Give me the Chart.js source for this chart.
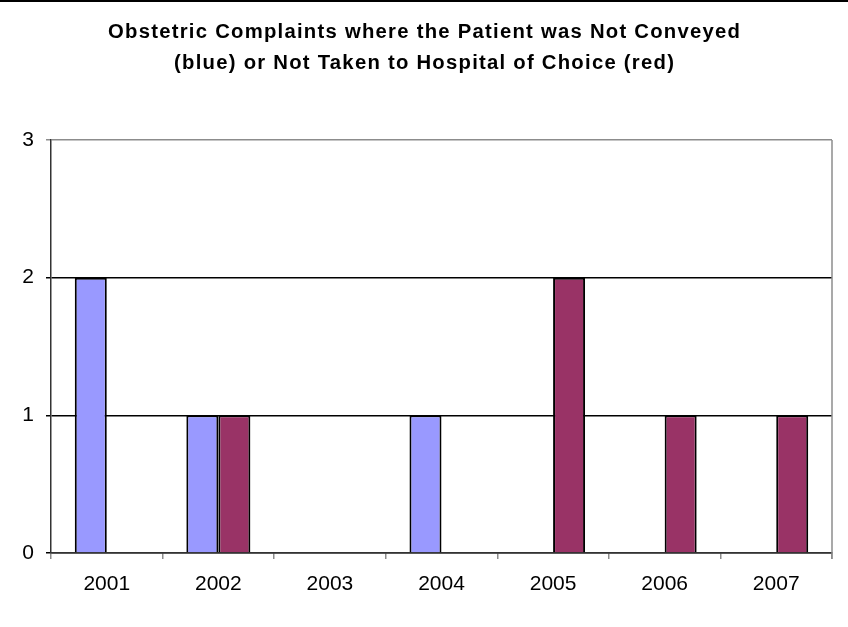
<!DOCTYPE html>
<html>
<head>
<meta charset="utf-8">
<script src="https://cdn.jsdelivr.net/npm/chart.js@4/dist/chart.umd.min.js"></script>
<style>
  html, body { margin: 0; padding: 0; background: #fff; }
  #wrap { width: 848px; height: 627px; position: relative; }
</style>
</head>
<body>
<div id="wrap"><canvas id="c" width="848" height="627"></canvas></div>
<script>
const years = ['2001', '2002', '2003', '2004', '2005', '2006', '2007'];
const notConveyed = [2, 1, 0, 1, 0, 0, 0];
const notHospitalOfChoice = [0, 1, 0, 0, 2, 1, 1];
const titleLines = [
  'Obstetric Complaints where the Patient was Not Conveyed',
  '(blue) or Not Taken to Hospital of Choice (red)'
];

const FONT = '"Liberation Sans", Arial, sans-serif';

// Page rule across the top, the wide bold heading,
// and the grey right-hand frame of the plot area
const framePlugin = {
  id: 'frame',
  beforeDraw(chart) {
    const ctx = chart.ctx;
    ctx.save();
    ctx.fillStyle = '#fff';
    ctx.fillRect(0, 0, chart.width, chart.height);
    ctx.fillStyle = '#000';
    ctx.fillRect(0, 0, chart.width, 2);

    const spacing = 1.2;
    const stretch = 1.04;
    ctx.font = 'bold 19.5px ' + FONT;
    ctx.letterSpacing = spacing + 'px';
    ctx.textAlign = 'center';
    ctx.textBaseline = 'middle';
    const cx = chart.width / 2 + spacing / 2;
    ctx.translate(cx, 0);
    ctx.scale(stretch, 1);
    ctx.fillText(titleLines[0], 0, 33);
    ctx.fillText(titleLines[1], 0, 64);
    ctx.restore();
  },
  afterDatasetsDraw(chart) {
    const { ctx, chartArea } = chart;
    ctx.save();
    ctx.strokeStyle = '#8c8c8c';
    ctx.lineWidth = 1.5;
    ctx.beginPath();
    ctx.moveTo(chartArea.right, chartArea.top);
    ctx.lineTo(chartArea.right, chartArea.bottom + 6);
    ctx.stroke();
    ctx.restore();
  }
};

new Chart(document.getElementById('c'), {
  type: 'bar',
  data: {
    labels: years,
    datasets: [
      {
        label: 'Not Conveyed',
        data: notConveyed,
        backgroundColor: '#9999ff',
        borderColor: '#000',
        borderWidth: 2
      },
      {
        label: 'Not Taken to Hospital of Choice',
        data: notHospitalOfChoice,
        backgroundColor: '#993366',
        borderColor: '#000',
        borderWidth: 2
      }
    ]
  },
  options: {
    responsive: false,
    animation: false,
    layout: { padding: { left: 0, right: 16, top: 140, bottom: 0 } },
    datasets: {
      bar: { barPercentage: 1.0, categoryPercentage: 0.574 }
    },
    plugins: {
      legend: { display: false },
      tooltip: { enabled: false },
      title: { display: false }
    },
    scales: {
      x: {
        offset: true,
        grid: {
          offset: true,
          drawOnChartArea: false,
          drawTicks: true,
          tickLength: 6,
          color: '#8c8c8c',
          lineWidth: 1.5
        },
        border: { display: true, color: '#333', width: 1.5 },
        ticks: {
          color: '#000',
          padding: 13,
          font: { family: FONT, size: 21 }
        },
        afterFit(scale) { scale.height = 74; }
      },
      y: {
        min: 0,
        max: 3,
        ticks: {
          stepSize: 1,
          color: '#000',
          padding: 12,
          font: { family: FONT, size: 21 }
        },
        grid: {
          tickLength: 5,
          lineWidth: 1.5,
          color(ctx) { return ctx.tick && ctx.tick.value === 3 ? '#8c8c8c' : '#000'; }
        },
        border: { display: true, color: '#333', width: 1.5 },
        afterFit(scale) { scale.width = 51; }
      }
    }
  },
  plugins: [framePlugin]
});
</script>
</body>
</html>
